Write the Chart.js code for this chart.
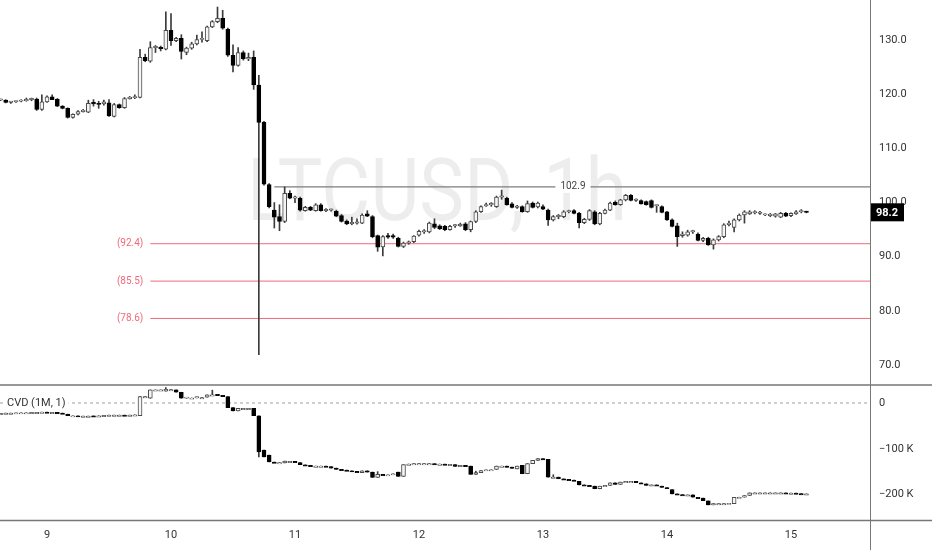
<!DOCTYPE html>
<html>
<head>
<meta charset="utf-8">
<title>LTCUSD, 1h</title>
<script src="https://cdn.jsdelivr.net/npm/chart.js@4.4.1/dist/chart.umd.min.js"></script>
<style>
html, body { margin: 0; padding: 0; background: #fff; }
#wrap { position: relative; width: 932px; height: 550px; overflow: hidden; }
#priceChart { position: absolute; left: 0; top: 0; }
#cvdChart { position: absolute; left: 0; top: 384px; }
</style>
</head>
<body>
<div id="wrap">
  <canvas id="priceChart" width="932" height="384"></canvas>
  <canvas id="cvdChart" width="932" height="166"></canvas>
</div>
<script>
// hourly candles, first one is day 8 15:00 (hour -9 relative to day 9 00:00)
const firstHour = -9;
const dayTicks = [0, 24, 48, 72, 96, 120, 144];
const dayLabels = ['9', '10', '11', '12', '13', '14', '15'];
const priceTicks = [70, 80, 90, 100, 110, 120, 130];
const cvdTicks = [0, -100, -200];
const cvdTickLabels = ['0', '\u2212100 K', '\u2212200 K'];
const fibLevels = [92.4, 85.5, 78.6];
const fibLabels = ['(92.4)', '(85.5)', '(78.6)'];
const highLevel = 102.9;

const priceOpen = [
  118.9,118.9,118.5,118.6,118.7,118.8,119.0,119.1,117.2,118.6,119.5,119.1,
  117.8,117.4,115.7,116.3,116.8,116.7,118.5,118.2,118.2,118.4,115.9,118.1,
  117.5,119.2,119.35,119.4,126.8,126.1,128.6,128.6,128.3,131.8,129.9,130.3,
  127.7,128.5,129.3,130.1,129.9,132.45,133.4,134.0,132.0,127.2,125.3,127.7,
  126.5,126.8,121.7,114.8,103.3,98.6,97.4,96.5,101.7,100.8,100.8,98.5,
  99.1,98.5,99.6,98.5,98.6,98.4,97.6,96.6,96.1,96.2,96.2,97.9,
  97.4,93.9,91.8,93.9,93.9,93.4,91.9,92.5,92.8,94.0,94.6,94.6,
  96.05,95.7,95.6,95.0,95.7,95.7,96.05,95.0,96.5,98.3,99.4,99.6,
  99.25,101.0,100.8,99.75,99.1,99.25,98.3,99.9,99.2,99.25,98.6,96.8,
  97.4,97.4,98.3,98.5,98.0,96.3,96.9,98.3,96.05,98.0,98.6,100.05,
  99.6,100.5,101.35,100.4,100.35,100.2,100.35,99.4,99.25,98.3,96.8,95.7,
  93.9,94.0,94.6,94.2,93.0,93.4,92.2,93.1,93.7,95.9,95.4,96.8,
  97.7,97.9,98.1,98.0,97.7,97.6,97.5,97.3,98.0,97.6,97.9,98.3,
  98.3
];
const priceHigh = [
  119.1,119.0,118.7,118.8,119.0,119.3,119.3,119.3,119.9,119.7,119.9,119.2,
  117.9,117.5,116.4,117.0,117.2,118.9,119.0,118.7,118.9,119.0,118.3,118.2,
  119.4,119.6,119.9,128.3,127.4,129.7,129.0,128.9,135.2,134.9,130.5,131.0,
  128.7,129.6,130.9,131.5,132.6,133.6,136.1,135.5,132.2,129.1,128.6,128.0,
  127.6,128.0,123.5,115.0,103.5,100.0,99.6,102.9,102.2,101.2,101.0,99.3,
  99.3,99.8,99.8,98.9,98.8,98.6,97.8,96.8,97.3,97.0,97.9,98.5,
  97.6,94.0,93.9,94.3,94.2,93.6,92.7,92.9,93.9,94.9,95.0,96.4,
  97.0,95.9,95.8,95.8,96.0,96.2,96.3,96.6,98.5,99.4,99.9,100.0,
  101.2,102.3,101.0,100.0,99.5,99.4,100.3,100.1,100.1,99.6,98.8,97.6,
  97.8,98.5,98.6,98.7,98.2,97.1,98.7,98.5,98.2,98.8,100.1,100.3,
  100.6,101.5,101.5,100.7,100.5,100.3,100.5,99.6,99.4,98.4,97.0,96.2,
  94.6,94.9,94.9,94.4,93.6,93.6,93.3,93.9,96.1,96.6,97.0,97.9,
  98.5,98.5,98.5,98.4,97.9,98.0,98.0,98.2,98.2,98.1,98.5,98.7,
  98.4
];
const priceLow = [
  118.8,118.4,118.3,118.5,118.6,118.7,118.8,117.0,117.0,118.5,119.0,117.7,
  117.3,115.6,115.6,116.2,116.7,116.6,117.8,117.4,118.0,115.9,115.8,117.4,
  117.4,119.1,119.2,119.3,126.0,125.9,127.7,128.0,128.2,129.0,129.7,126.5,
  127.3,128.3,129.1,129.6,129.7,132.3,133.2,132.0,127.0,124.1,125.2,126.3,
  126.2,120.9,71.9,103.2,99.0,95.3,94.8,96.3,100.7,100.0,98.4,98.4,
  98.5,98.4,98.4,98.3,98.4,97.4,96.4,95.9,95.9,96.0,96.1,97.4,
  93.5,91.0,90.15,93.4,93.4,91.8,91.7,92.3,92.6,93.8,94.3,94.4,
  95.2,95.0,94.8,94.9,95.4,95.6,94.8,94.6,96.3,98.2,99.3,99.3,
  99.1,100.6,99.5,99.0,98.9,98.2,98.2,99.0,99.0,98.7,95.8,96.6,
  97.0,97.2,98.1,97.9,95.3,96.1,96.7,95.9,95.9,97.9,98.5,99.5,
  99.5,100.3,100.3,100.2,99.7,99.5,99.0,98.2,98.1,96.7,95.5,91.9,
  93.6,93.8,94.3,92.9,92.8,92.1,91.4,92.9,93.5,95.7,94.6,96.6,
  96.2,97.8,97.9,97.8,97.6,97.4,97.3,97.2,97.4,97.4,97.8,98.1,
  98.1
];
const priceClose = [
  118.9,118.5,118.6,118.7,118.8,119.0,119.0,117.2,118.6,119.5,119.0,117.8,
  117.4,115.7,116.3,116.8,117.0,118.3,118.2,118.1,118.6,116.0,118.1,117.5,
  119.2,119.35,119.4,126.8,126.2,128.6,128.6,128.4,131.8,129.9,130.3,127.9,
  128.5,129.3,130.1,130.1,132.45,133.4,134.0,132.2,127.2,125.3,127.7,126.5,
  126.8,121.7,114.8,103.4,99.25,97.3,96.5,101.7,100.8,101.0,98.6,99.1,
  98.6,99.6,98.5,98.6,98.6,97.5,96.5,96.05,96.2,96.2,97.7,97.5,
  93.7,91.75,93.7,93.6,93.6,91.9,92.5,92.6,93.8,94.7,94.6,96.2,
  95.4,95.2,95.0,95.6,95.7,96.0,95.0,96.5,98.3,99.25,99.6,99.6,
  101.0,101.1,99.6,99.1,99.2,98.3,99.8,99.1,99.9,98.8,96.8,97.4,
  97.4,98.3,98.3,98.0,96.3,96.9,98.5,96.05,98.0,98.6,99.9,99.6,
  100.5,101.35,100.4,100.5,99.75,99.6,99.1,99.4,98.2,96.8,95.6,93.7,
  94.2,94.6,94.6,93.0,93.4,92.2,93.1,93.7,95.9,96.2,96.8,97.7,
  98.3,98.3,98.1,98.0,97.7,97.6,97.9,98.0,97.5,98.0,98.3,98.3,
  98.2
];

// CVD (1M, 1), in thousands
const cvdOpen = [
  -22.7,-22.7,-22.0,-22.0,-21.3,-21.3,-21.3,-20.5,-20.5,-19.8,-20.5,-20.5,
  -22.0,-24.5,-27.8,-27.8,-28.6,-28.6,-28.0,-29.3,-28.0,-27.0,-26.4,-26.4,
  -26.4,-27.0,-26.4,-27.8,13.9,10.3,28.6,28.6,26.0,29.3,28.6,23.5,
  10.3,11.0,11.0,11.7,12.5,17.6,17.6,16.0,13.9,-10.3,-17.6,-11.7,
  -11.7,-11.7,-27.8,-103,-114,-129,-130.4,-131,-127.5,-127.5,-130.4,-135,
  -136.3,-137.8,-137.8,-137.8,-139.2,-142.2,-145.1,-146.6,-148,-149.5,-152.4,-148,
  -151,-162.6,-156,-156.8,-156.8,-151,-160.5,-134.8,-133.4,-132.6,-132.6,-132.6,
  -132.6,-133.4,-133.4,-134.1,-134.8,-138.5,-136.3,-137.8,-156,-152,-147.6,-145.8,
  -145,-137.8,-137.8,-139.9,-144,-136.3,-154.6,-132.5,-125.3,-121.6,-123.1,-162,
  -161.9,-165.6,-167,-168.5,-171.4,-178.8,-180.2,-181.7,-187.5,-181.7,-180.2,-174.3,
  -178,-172.9,-171.4,-171.4,-174.3,-176.5,-180,-178.8,-181.7,-184.6,-189,-198.5,
  -200,-200.7,-200.7,-206,-208,-213.9,-222.7,-219.8,-219.8,-219.8,-220,-206,
  -205.9,-202.2,-196.3,-196.3,-196.3,-196.3,-196.3,-196.3,-196.3,-197,-197,-197.8,
  -198.5
];
const cvdHigh = [
  -22.7,-22.0,-22.0,-21.3,-21.3,-21.3,-20.5,-20.5,-19.8,-19.8,-20.5,-20.5,
  -22.0,-24.5,-27.8,-27.8,-28.6,-28.6,-28.0,-28.0,-27.0,-26.4,-26.4,-26.4,
  -26.4,-26.4,-25.7,13.9,13.9,28.6,28.6,28.6,33.7,29.3,28.6,23.5,
  11.0,11.0,11.7,11.7,17.6,28.0,17.6,16.0,13.9,-10.3,-11.7,-11.7,
  -11.7,-11.7,-27.8,-103,-114,-129,-130.4,-127,-127.5,-127.5,-130.4,-135,
  -136.3,-137.8,-137.8,-137.8,-139.2,-142.2,-145.1,-146.6,-148,-149.5,-148,-148,
  -151,-150,-156,-156.8,-154.6,-151,-134.8,-133.4,-132.6,-132.6,-132.6,-132.6,
  -132.6,-133.4,-133.4,-134.1,-134.8,-136.3,-136.3,-137.8,-149,-147.6,-145.8,-145.8,
  -137.8,-137.8,-137.8,-139.9,-138,-136.3,-132.5,-125.3,-121.6,-121.6,-123.1,-156.8,
  -161.9,-165.6,-167,-168.5,-171.4,-178.8,-180.2,-181.7,-181.7,-180.2,-174.3,-174.3,
  -172.9,-171.4,-171.4,-171.4,-174.3,-176.5,-178.8,-178.8,-181.7,-184.6,-189,-198.5,
  -200,-200.7,-200.7,-206,-208,-213.9,-219.8,-219.8,-219.8,-219,-206,-205.9,
  -202.2,-196.3,-196.3,-196.3,-196.3,-196.3,-196.3,-196.3,-196.3,-197,-197,-197.8,
  -198.5
];
const cvdLow = [
  -22.7,-22.7,-22.0,-22.0,-21.3,-21.3,-21.3,-20.5,-20.5,-20.5,-20.5,-22.0,
  -23.5,-27.8,-27.8,-28.6,-28.6,-28.6,-29.3,-29.3,-28.0,-27.0,-26.4,-26.4,
  -27.0,-27.0,-26.4,-27.8,13.9,10.3,28.6,28.6,26.0,29.3,23.5,10.3,
  10.3,11.0,11.0,11.7,12.5,17.6,16.0,13.9,-10.3,-17.6,-17.6,-11.7,
  -11.7,-27.8,-118,-118,-129,-130.4,-130.4,-131,-127.5,-129,-135,-136.3,
  -137.8,-137.8,-137.8,-139.2,-142.2,-145.1,-146.6,-148,-149.5,-151,-152.4,-151,
  -162.6,-162.6,-156.8,-156.8,-156.8,-160.5,-160.5,-134.8,-133.4,-132.6,-132.6,-132.6,
  -133.4,-133.4,-134.1,-134.1,-138.5,-138.5,-137.8,-156,-156,-152,-147.6,-145.8,
  -145,-137.8,-139.9,-142.2,-144,-154.6,-154.6,-132.5,-125.3,-123.1,-162,-162,
  -165.6,-167,-168.5,-170,-178.8,-180.2,-181.7,-187.5,-187.5,-181.7,-180.2,-178,
  -178,-172.9,-171.4,-174.3,-176.5,-180,-180,-180.2,-184.6,-187.5,-198.5,-200,
  -200.7,-200.7,-206,-206.6,-213.2,-222.7,-222.7,-219.8,-219.8,-219.8,-220,-206,
  -205.9,-202.2,-196.3,-196.3,-196.3,-196.3,-196.3,-196.3,-197,-197,-197.8,-198.5,
  -198.5
];
const cvdClose = [
  -22.7,-22.0,-22.0,-21.3,-21.3,-21.3,-20.5,-20.5,-19.8,-20.5,-20.5,-22.0,
  -23.5,-27.8,-27.8,-28.6,-28.6,-28.6,-29.3,-28.0,-27.0,-26.4,-26.4,-26.4,
  -27.0,-26.4,-25.7,13.9,13.9,28.6,28.6,28.6,30.0,29.3,23.5,10.3,
  11.0,11.0,11.7,11.7,17.6,17.6,16.0,13.9,-10.3,-17.6,-11.7,-11.7,
  -11.7,-27.8,-107,-118,-129,-130.4,-130.4,-127,-127.5,-129,-135,-136.3,
  -137.8,-137.8,-137.8,-139.2,-142.2,-145.1,-146.6,-148,-149.5,-151,-148,-151,
  -162.6,-156,-156.8,-156.8,-154.6,-160.5,-134.8,-133.4,-132.6,-132.6,-132.6,-132.6,
  -133.4,-133.4,-134.1,-134.1,-138.5,-136.3,-137.8,-156,-152,-147.6,-145.8,-145.8,
  -137.8,-137.8,-139.9,-142.2,-138,-154.6,-132.5,-125.3,-121.6,-123.1,-162,-161.9,
  -165.6,-167,-168.5,-170,-178.8,-180.2,-181.7,-187.5,-181.7,-180.2,-174.3,-178,
  -172.9,-171.4,-171.4,-174.3,-176.5,-180,-178.8,-180.2,-184.6,-187.5,-198.5,-200,
  -200.7,-200.7,-206,-206.6,-213.2,-222.7,-219.8,-219.8,-219.8,-219,-206,-205.9,
  -202.2,-196.3,-196.3,-196.3,-196.3,-196.3,-196.3,-196.3,-197,-197,-197.8,-198.5,
  -198.5
];

const X_MIN = -9.1, X_MAX = 159.3;   // visible time window, hours
const FONT = 'Roboto';
const upFill = '#f5f5f5';
const upEdge = '#4a4a4a';
const wickColor = '#3c3c3c';

function candleSets(o, h, l, c) {
  const hourOf = i => firstHour + i;
  const isUp = i => i !== undefined && c[i] >= o[i];
  return [
    {
      type: 'bar', order: 0, grouped: false, barThickness: 4, minBarLength: 1.3,
      borderWidth: 1, borderSkipped: false,
      borderColor: ctx => isUp(ctx.dataIndex) ? upEdge : '#000',
      backgroundColor: ctx => isUp(ctx.dataIndex) ? upFill : '#000',
      data: o.map((v, i) => ({ x: hourOf(i), y: [v, c[i]] }))
    },
    {
      type: 'bar', order: 1, grouped: false, barThickness: 1,
      borderWidth: 0, backgroundColor: wickColor,
      data: l.map((v, i) => ({ x: hourOf(i), y: [v, h[i]] }))
    }
  ];
}

function levelLine(y, fromHour, color, width, dash) {
  return {
    type: 'line', order: 3, borderColor: color, borderWidth: width, borderDash: dash || [],
    pointRadius: 0, fill: false, tension: 0,
    data: [{ x: fromHour, y: y }, { x: X_MAX, y: y }]
  };
}

const fibColor = '#f06a7b';

const priceDecor = {
  id: 'priceDecor',
  beforeDatasetsDraw(chart) {
    const { ctx, chartArea: a } = chart;
    ctx.save();
    ctx.font = '400 87px ' + FONT;
    ctx.fillStyle = 'rgba(0,0,0,0.07)';
    const text = 'LTCUSD, 1h';
    const w = ctx.measureText(text).width;
    ctx.translate((a.left + a.right) / 2 + 2, 220);
    ctx.scale(380 / w, 1);
    ctx.textAlign = 'center';
    ctx.textBaseline = 'alphabetic';
    ctx.fillText(text, 0, 0);
    ctx.restore();
  },
  afterDatasetsDraw(chart) {
    const { ctx, scales: { x, y } } = chart;
    ctx.save();
    ctx.font = '10px ' + FONT;
    ctx.textBaseline = 'middle';
    ctx.textAlign = 'right';
    ctx.fillStyle = fibColor;
    fibLevels.forEach((lv, i) => {
      ctx.fillText(fibLabels[i], x.getPixelForValue(20) - 7, y.getPixelForValue(lv));
    });
    // label on the 102.9 line
    const lx = x.getPixelForValue(101.8), ly = y.getPixelForValue(highLevel);
    const t = highLevel.toFixed(1);
    const tw = ctx.measureText(t).width;
    ctx.fillStyle = '#fff';
    ctx.fillRect(lx - tw / 2 - 5, ly - 6, tw + 10, 12);
    ctx.textAlign = 'center';
    ctx.fillStyle = '#444';
    ctx.fillText(t, lx, ly);
    ctx.restore();
  },
  afterDraw(chart) {
    const { ctx, chartArea: a, scales: { y } } = chart;
    ctx.save();
    ctx.strokeStyle = '#777';
    ctx.lineWidth = 1;
    ctx.beginPath();
    ctx.moveTo(a.right + 0.5, 0);
    ctx.lineTo(a.right + 0.5, chart.height);
    ctx.stroke();
    // last price tag
    const last = priceClose[priceClose.length - 1];
    const py = y.getPixelForValue(last);
    ctx.fillStyle = '#000';
    ctx.fillRect(a.right + 1, py - 9, 33, 18);
    ctx.fillStyle = '#fff';
    ctx.font = 'bold 11px ' + FONT;
    ctx.textBaseline = 'middle';
    ctx.textAlign = 'left';
    ctx.fillText(last.toFixed(1), a.right + 6, py + 0.5);
    ctx.restore();
  }
};

const cvdDecor = {
  id: 'cvdDecor',
  afterDatasetsDraw(chart) {
    const { ctx, scales: { y } } = chart;
    ctx.save();
    ctx.font = '11px ' + FONT;
    const label = 'CVD (1M, 1)';
    const w = ctx.measureText(label).width;
    const ly = y.getPixelForValue(0);
    ctx.fillStyle = '#fff';
    ctx.fillRect(5, ly - 7, w + 5, 14);
    ctx.fillStyle = '#333';
    ctx.textBaseline = 'middle';
    ctx.fillText(label, 7, ly);
    ctx.restore();
  },
  afterDraw(chart) {
    const { ctx, chartArea: a } = chart;
    ctx.save();
    ctx.strokeStyle = '#777';
    ctx.lineWidth = 1.5;
    ctx.beginPath();
    ctx.moveTo(0, 1); ctx.lineTo(chart.width, 1);
    ctx.moveTo(0, a.bottom + 0.5); ctx.lineTo(chart.width, a.bottom + 0.5);
    ctx.stroke();
    ctx.lineWidth = 1;
    ctx.beginPath();
    ctx.moveTo(a.right + 0.5, 0);
    ctx.lineTo(a.right + 0.5, chart.height);
    ctx.stroke();
    ctx.restore();
  }
};

const axisFont = { family: FONT, size: 11 };

new Chart(document.getElementById('priceChart'), {
  type: 'bar',
  data: {
    datasets: [
      ...candleSets(priceOpen, priceHigh, priceLow, priceClose),
      levelLine(highLevel, 44, '#7d7d7d', 1.2),
      ...fibLevels.map(lv => levelLine(lv, 20, fibColor, 1))
    ]
  },
  options: {
    responsive: false,
    animation: false,
    events: [],
    layout: { padding: 0 },
    plugins: { legend: { display: false }, tooltip: { enabled: false } },
    scales: {
      x: { type: 'linear', min: X_MIN, max: X_MAX, offset: false, display: false },
      y: {
        position: 'right', min: 66.5, max: 137.4,
        grid: { display: false, drawTicks: false },
        border: { display: false },
        afterBuildTicks: s => { s.ticks = priceTicks.map(v => ({ value: v })); },
        afterFit: s => { s.width = 62; s.paddingTop = 0; s.paddingBottom = 0; },
        ticks: { padding: 9, color: '#333', font: axisFont, callback: v => v.toFixed(1) }
      }
    }
  },
  plugins: [priceDecor]
});

new Chart(document.getElementById('cvdChart'), {
  type: 'bar',
  data: {
    datasets: [
      ...candleSets(cvdOpen, cvdHigh, cvdLow, cvdClose),
      levelLine(0, X_MIN, '#a0a0a0', 1, [3, 3])
    ]
  },
  options: {
    responsive: false,
    animation: false,
    events: [],
    layout: { padding: 0 },
    plugins: { legend: { display: false }, tooltip: { enabled: false } },
    scales: {
      x: {
        type: 'linear', min: X_MIN, max: X_MAX, offset: false, position: 'bottom',
        grid: { display: false, drawTicks: false },
        border: { display: false },
        afterBuildTicks: s => { s.ticks = dayTicks.map(v => ({ value: v })); },
        afterFit: s => { s.height = 30; s.paddingLeft = 0; s.paddingRight = 0; },
        ticks: { padding: 9, color: '#333', font: axisFont, maxRotation: 0, autoSkip: false,
                 callback: v => dayLabels[dayTicks.indexOf(v)] }
      },
      y: {
        position: 'right', min: -255.7, max: 41.5,
        grid: { display: false, drawTicks: false },
        border: { display: false },
        afterBuildTicks: s => { s.ticks = cvdTicks.map(v => ({ value: v })); },
        afterFit: s => { s.width = 62; s.paddingTop = 0; s.paddingBottom = 0; },
        ticks: { padding: 9, color: '#333', font: axisFont,
                 callback: v => cvdTickLabels[cvdTicks.indexOf(v)] }
      }
    }
  },
  plugins: [cvdDecor]
});
</script>
</body>
</html>
